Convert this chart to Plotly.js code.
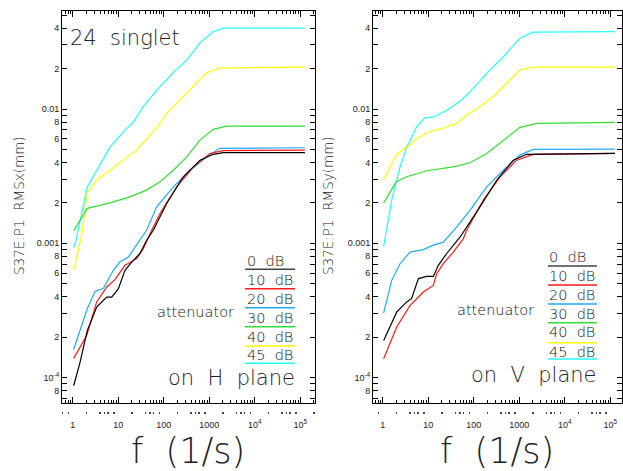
<!DOCTYPE html>
<html>
<head>
<meta charset="utf-8">
<script src="https://cdn.plot.ly/plotly-3.0.1.min.js"></script>
<style>html,body{margin:0;padding:0;background:#fff;}#chart{width:623px;height:471px;}</style>
</head>
<body>
<div id="chart"></div>
<script>
// ---- Data (frequency f in 1/s, RMS in mm) ----
var attenLabels = ['0  dB', '10  dB', '20  dB', '30  dB', '40  dB', '45  dB'];
var colors = ['#000000', '#ff1a1a', '#1eaaff', '#33dd33', '#ffff00', '#22ffff'];

// H plane (RMSx)
var H_f0  = [1.05, 1.45, 2.09, 3.37, 5.6, 7.2, 10.1, 14.1, 19.8, 30, 42, 59, 116, 270, 628, 1230, 2030, 1.27e5];
var H_v0  = [8.7e-5, 1.3e-4, 2.24e-4, 3.35e-4, 3.98e-4, 3.98e-4, 4.6e-4, 6.3e-4, 7.25e-4, 8.4e-4, 1.05e-3, 1.25e-3, 1.98e-3, 3.13e-3, 4.16e-3, 4.6e-3, 4.73e-3, 4.73e-3];
var H_f10 = [1.05, 2.03, 3.37, 5.6, 8.5, 14.1, 25.5, 35.6, 54.5, 83, 193, 450, 1040, 2030, 1.27e5];
var H_v10 = [1.39e-4, 2.06e-4, 3.66e-4, 4.73e-4, 5.37e-4, 6.86e-4, 7.69e-4, 9.1e-4, 1.25e-3, 1.67e-3, 2.63e-3, 3.71e-3, 4.67e-3, 4.9e-3, 4.94e-3];
var H_f20 = [1.05, 1.45, 2.09, 3.09, 4.7, 7.8, 10.9, 16.7, 25.5, 42, 70, 163, 380, 880, 1700, 1.27e5];
var H_v20 = [1.62e-4, 2.24e-4, 3.26e-4, 4.38e-4, 4.6e-4, 6.3e-4, 7.25e-4, 7.9e-4, 9.7e-4, 1.25e-3, 1.87e-3, 2.63e-3, 3.5e-3, 4.4e-3, 5.1e-3, 5.15e-3];
var H_f30 = [1.05, 1.45, 2.09, 3.37, 6.6, 18.2, 42, 83, 163, 320, 628, 1230, 2430, 1.27e5];
var H_v30 = [1.24e-3, 1.49e-3, 1.82e-3, 1.89e-3, 2.0e-3, 2.22e-3, 2.49e-3, 2.87e-3, 3.5e-3, 4.4e-3, 5.87e-3, 7.06e-3, 7.47e-3, 7.47e-3];
var H_f40 = [1.05, 1.58, 2.09, 3.37, 6.6, 12.8, 25.5, 35, 71, 118, 228, 443, 860, 1700, 1.27e5];
var H_v40 = [6.3e-4, 1.15e-3, 2.35e-3, 2.95e-3, 3.5e-3, 4.17e-3, 4.94e-3, 5.57e-3, 7.3e-3, 9.3e-3, 1.167e-2, 1.46e-2, 1.86e-2, 2.02e-2, 2.05e-2];
var H_f45 = [1.05, 1.18, 2.09, 3.42, 6.6, 14.1, 21, 35, 71, 160, 325, 628, 1212, 2010, 1.27e5];
var H_v45 = [9.3e-4, 1.05e-3, 2.63e-3, 3.5e-3, 5.2e-3, 6.97e-3, 7.9e-3, 1.035e-2, 1.39e-2, 1.86e-2, 2.32e-2, 3.11e-2, 3.76e-2, 4.0e-2, 4.0e-2];

// V plane (RMSy)
var V_f0  = [1.05, 2.03, 3.37, 4.3, 6.1, 9.3, 13, 16.7, 25.5, 50, 137, 320, 740, 1450, 1.27e5];
var V_v0  = [1.89e-4, 3.07e-4, 3.66e-4, 3.87e-4, 5.46e-4, 5.67e-4, 5.67e-4, 6.86e-4, 8.4e-4, 1.11e-3, 1.87e-3, 2.95e-3, 4.16e-3, 4.6e-3, 4.68e-3];
var V_f10 = [1.05, 2.03, 3.98, 7.8, 13, 15.4, 21.5, 35.6, 59, 70, 163, 380, 880, 2030, 1.27e5];
var V_v10 = [1.38e-4, 2.38e-4, 3.44e-4, 4.34e-4, 4.86e-4, 5.94e-4, 7.05e-4, 8.6e-4, 1.08e-3, 1.25e-3, 2.1e-3, 3.13e-3, 4.16e-3, 4.6e-3, 4.68e-3];
var V_f20 = [1.05, 1.58, 2.4, 3.98, 7.8, 13, 21.5, 30, 42, 83, 193, 450, 1040, 2030, 1.27e5];
var V_v20 = [3.04e-4, 5.3e-4, 7.05e-4, 8.6e-4, 8.97e-4, 9.7e-4, 1.02e-3, 1.15e-3, 1.32e-3, 1.76e-3, 2.63e-3, 3.5e-3, 4.54e-3, 5.0e-3, 5.03e-3];
var V_f30 = [1.05, 1.96, 3.37, 9.3, 35.6, 83, 193, 450, 1040, 2430, 1.27e5];
var V_v30 = [2.0e-3, 2.87e-3, 3.13e-3, 3.47e-3, 3.71e-3, 3.98e-3, 4.67e-3, 5.87e-3, 7.3e-3, 7.82e-3, 7.96e-3];
var V_f40 = [1.05, 2.09, 3.37, 5.6, 10.9, 21.5, 42, 70, 137, 270, 530, 1040, 2030, 1.27e5];
var V_v40 = [3.0e-3, 4.67e-3, 5.2e-3, 6.04e-3, 6.78e-3, 7.2e-3, 7.82e-3, 9.0e-3, 1.04e-2, 1.236e-2, 1.556e-2, 1.954e-2, 2.05e-2, 2.05e-2];
var V_f45 = [1.05, 1.22, 1.58, 2.4, 3.37, 5.6, 8.5, 13, 25.5, 54.5, 98, 193, 450, 1040, 2030, 1.27e5];
var V_v45 = [9.5e-4, 1.25e-3, 2.1e-3, 3.7e-3, 5.2e-3, 7.4e-3, 8.6e-3, 8.7e-3, 9.8e-3, 1.167e-2, 1.426e-2, 1.845e-2, 2.45e-2, 3.37e-2, 3.74e-2, 3.77e-2];

// Tick labels
var xTickVals = [1, 10, 100, 1000, 1e4, 1e5];
var xTickText = ['1', '10', '100', '1000', '10<sup>4</sup>', '10<sup>5</sup>'];
var yTickVals = [8e-5, 1e-4, 2e-4, 4e-4, 6e-4, 8e-4, 1e-3, 2e-3, 4e-3, 6e-3, 8e-3, 0.01, 0.02, 0.04];
var yTickText = ['8', '10<sup>-4</sup>', '2', '4', '6', '8', '0.001', '2', '4', '6', '8', '0.01', '2', '4'];
var yMinorVals = [7e-5, 9e-5, 3e-4, 5e-4, 7e-4, 9e-4, 3e-3, 5e-3, 7e-3, 9e-3, 0.03, 0.05];

// ---- Build ----
var W = 623, H = 471;
function px(x) { return x / W; }
function py(y) { return 1 - y / H; }

var hF = [H_f0, H_f10, H_f20, H_f30, H_f40, H_f45];
var hV = [H_v0, H_v10, H_v20, H_v30, H_v40, H_v45];
var vF = [V_f0, V_f10, V_f20, V_f30, V_f40, V_f45];
var vV = [V_v0, V_v10, V_v20, V_v30, V_v40, V_v45];

var traces = [];
for (var i = 5; i >= 0; i--) {
  traces.push({x: hF[i], y: hV[i], xaxis: 'x', yaxis: 'y', mode: 'lines', line: {color: colors[i], width: 1.2}, hoverinfo: 'skip'});
  traces.push({x: vF[i], y: vV[i], xaxis: 'x2', yaxis: 'y2', mode: 'lines', line: {color: colors[i], width: 1.2}, hoverinfo: 'skip'});
}
// carrier traces for dotted tick rows
traces.push({x: [], y: [], xaxis: 'x3', yaxis: 'y', mode: 'lines', hoverinfo: 'skip'});
traces.push({x: [], y: [], xaxis: 'x4', yaxis: 'y2', mode: 'lines', hoverinfo: 'skip'});

var dotVals = [];
[-1, 0, 1, 2, 3, 4, 5].forEach(function (e) {
  [2, 4, 5, 6, 8].forEach(function (m) { dotVals.push(m * Math.pow(10, e)); });
});
var xMinor = [];
[-1, 0, 1, 2, 3, 4, 5].forEach(function (e) {
  [2, 3, 4, 5, 6, 7, 8, 9].forEach(function (m) { xMinor.push(m * Math.pow(10, e)); });
});

var tickFont = {family: 'Liberation Sans, Arial, sans-serif', size: 9, color: '#222'};
function xAxis(dom, range, anchor) {
  return {
    type: 'log', domain: dom, range: range, anchor: anchor,
    showline: true, linecolor: '#000', linewidth: 1, mirror: 'allticks',
    ticks: 'inside', ticklen: 6, tickcolor: '#000',
    tickmode: 'array', tickvals: xTickVals, ticktext: xTickText,
    tickfont: tickFont, ticklabelstandoff: 13,
    minor: {ticks: 'inside', ticklen: 3, tickcolor: '#000', tickmode: 'array', tickvals: xMinor, showgrid: false},
    showgrid: false, zeroline: false, fixedrange: true
  };
}
function yAxis(dom, anchor) {
  return {
    type: 'log', domain: dom, range: [-4.189, -1.270], anchor: anchor,
    showline: true, linecolor: '#000', linewidth: 1, mirror: 'allticks',
    ticks: 'inside', ticklen: 5, tickcolor: '#000',
    tickmode: 'array', tickvals: yTickVals, ticktext: yTickText,
    tickfont: tickFont,
    minor: {ticks: 'inside', ticklen: 3, tickcolor: '#000', tickmode: 'array', tickvals: yMinorVals, showgrid: false},
    showgrid: false, zeroline: false, fixedrange: true
  };
}
function dotAxis(dom, range, over, pos) {
  return {
    type: 'log', domain: dom, range: range, overlaying: over, anchor: 'free', position: pos,
    showline: false, ticks: 'outside', ticklen: 2, tickwidth: 1.5, tickcolor: '#444',
    tickmode: 'array', tickvals: dotVals, showticklabels: false,
    showgrid: false, zeroline: false, fixedrange: true
  };
}

var domL = [px(62), px(315)], domR = [px(373), px(622)];
var yDom = [py(403), py(11)];
var rangeL = [-0.235, 5.325], rangeR = [-0.213, 5.259];

var annFont = {family: 'DejaVu Sans, sans-serif', size: 21, color: '#222', weight: 200};
var legFont = {family: 'DejaVu Sans, sans-serif', size: 14.5, color: '#111', weight: 200};
var titleFont = {family: 'DejaVu Sans, sans-serif', size: 35, color: '#222', weight: 200};
var yTitleFont = {family: 'DejaVu Sans, sans-serif', size: 13.5, color: '#222', weight: 200};
var annotations = [
  {text: 'S37E:P1  RMSx(mm)', x: px(19), y: py(206), textangle: -90, xanchor: 'center', yanchor: 'middle', font: yTitleFont},
  {text: 'S37E:P1  RMSy(mm)', x: px(328), y: py(206), textangle: -90, xanchor: 'center', yanchor: 'middle', font: yTitleFont},
  {text: '24  singlet', x: px(68), y: py(38), xanchor: 'left', yanchor: 'middle', font: annFont},
  {text: 'on  H  plane', x: px(166), y: py(378), xanchor: 'left', yanchor: 'middle', font: annFont},
  {text: 'on  V  plane', x: px(469), y: py(375), xanchor: 'left', yanchor: 'middle', font: annFont},
  {text: 'attenuator', x: px(155), y: py(312), xanchor: 'left', yanchor: 'middle', font: legFont},
  {text: 'attenuator', x: px(455), y: py(310), xanchor: 'left', yanchor: 'middle', font: legFont},
  {text: 'f  (1/s)', x: px(188), y: py(451), xanchor: 'center', yanchor: 'middle', font: titleFont},
  {text: 'f  (1/s)', x: px(497), y: py(451), xanchor: 'center', yanchor: 'middle', font: titleFont}
];
var legTextYL = [260.7, 280, 299, 318.3, 336.7, 355];
var legLineYL = [269.3, 288.7, 307.7, 326.7, 346, 363.3];
var legTextYR = [256.7, 275.7, 295, 314.3, 332.3, 351.7];
var legLineYR = [266, 285, 304, 322.7, 342.7, 359];
var shapes = [];
var lineCols = ['#444444', '#ff1a1a', '#1eaaff', '#33dd33', '#ffff00', '#22ffff'];
for (var k = 0; k < 6; k++) {
  annotations.push({text: attenLabels[k], x: px(245), y: py(legTextYL[k]), xanchor: 'left', yanchor: 'middle', font: legFont});
  annotations.push({text: attenLabels[k], x: px(547), y: py(legTextYR[k]), xanchor: 'left', yanchor: 'middle', font: legFont});
  shapes.push({type: 'line', xref: 'paper', yref: 'paper', x0: px(245), x1: px(295), y0: py(legLineYL[k]), y1: py(legLineYL[k]), line: {color: lineCols[k], width: 1.5}});
  shapes.push({type: 'line', xref: 'paper', yref: 'paper', x0: px(548), x1: px(597), y0: py(legLineYR[k]), y1: py(legLineYR[k]), line: {color: lineCols[k], width: 1.5}});
}
annotations.forEach(function (a) { a.xref = 'paper'; a.yref = 'paper'; a.showarrow = false; });

var layout = {
  width: W, height: H,
  margin: {l: 0, r: 0, t: 0, b: 0},
  paper_bgcolor: '#fff', plot_bgcolor: '#fff',
  showlegend: false,
  xaxis: xAxis(domL, rangeL, 'y'),
  yaxis: yAxis(yDom, 'x'),
  xaxis2: xAxis(domR, rangeR, 'y2'),
  yaxis2: yAxis(yDom, 'x2'),
  xaxis3: dotAxis(domL, rangeL, 'x', py(411)),
  xaxis4: dotAxis(domR, rangeR, 'x2', py(411)),
  annotations: annotations,
  shapes: shapes
};

Plotly.newPlot('chart', traces, layout, {staticPlot: true, displayModeBar: false});
</script>
</body>
</html>
